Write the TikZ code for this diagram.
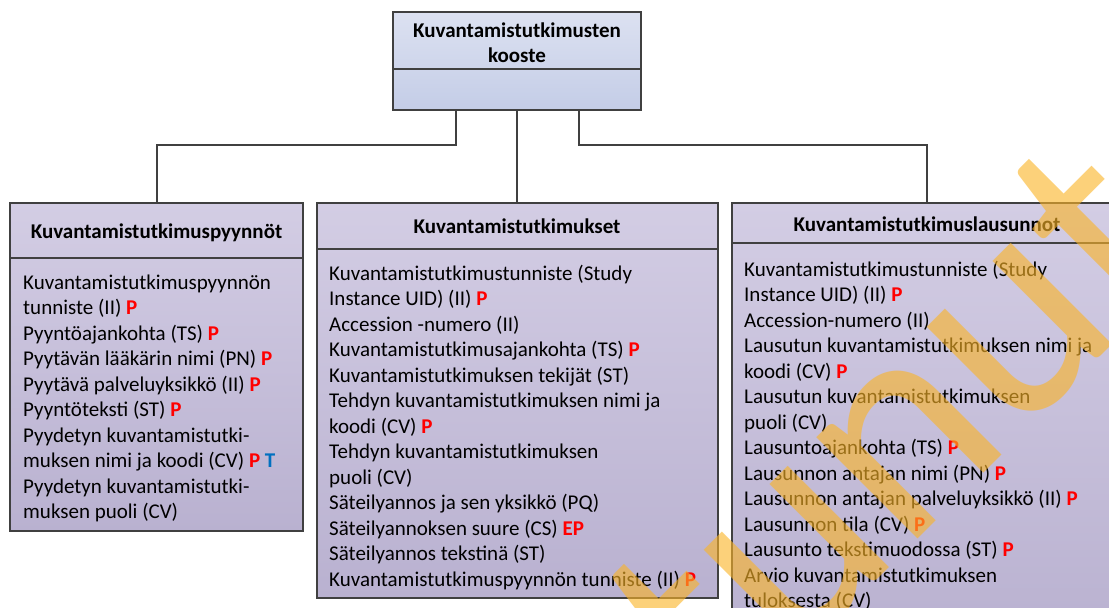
\documentclass[tikz,border=0pt]{standalone}
\usepackage{fontspec}
\setmainfont{Carlito}
\definecolor{edge}{RGB}{64,64,64}
\definecolor{pred}{RGB}{255,0,0}
\definecolor{tblue}{RGB}{0,112,192}
\definecolor{topA}{RGB}{220,225,241}
\definecolor{topB}{RGB}{196,205,231}
\definecolor{boxA}{RGB}{211,205,228}
\definecolor{boxB}{RGB}{185,177,208}
\definecolor{wmorange}{RGB}{250,180,40}
\newcommand{\pmark}{\textcolor{pred}{\textbf{P}}}
\newcommand{\tmark}{\textcolor{tblue}{\textbf{T}}}
\newcommand{\epmark}{\textcolor{pred}{\textbf{EP}}}
\newcommand{\firstline}{\rule{0pt}{20pt}}
\begin{document}
\begin{tikzpicture}[x=1pt,y=-1pt,
  classbox/.style={draw=edge,line width=2pt,outer sep=0pt,inner sep=0pt,anchor=north west,
    top color=boxA,bottom color=boxB},
  topbox/.style={classbox,top color=topA,bottom color=topB},
  divider/.style={draw=edge,line width=2pt},
  conn/.style={draw=edge,line width=2pt},
  titletext/.style={inner sep=0pt,font=\fontsize{21}{25.5}\selectfont\bfseries},
  bodytext/.style={inner sep=0pt,anchor=north west,align=left,font=\fontsize{21}{25.5}\selectfont},
  wm/.style={inner sep=0pt,text=wmorange,text opacity=0.62,font=\fontsize{300}{300}\selectfont}
]
\useasboundingbox (0,0) rectangle (1109,608);
\clip (0,0) rectangle (1109,608);

% class boxes
\node[topbox,minimum width=248pt,minimum height=98pt] (top) at (393,12) {};
\node[classbox,minimum width=293pt,minimum height=328pt] (req) at (10,203) {};
\node[classbox,minimum width=401pt,minimum height=395pt] (study) at (316.5,203) {};
\node[classbox,minimum width=390pt,minimum height=440pt] (rep) at (732,203) {};

% compartment dividers
\draw[divider] (top.west |- 0,69) -- (top.east |- 0,69);
\draw[divider] (req.west |- 0,258) -- (req.east |- 0,258);
\draw[divider] (study.west |- 0,249) -- (study.east |- 0,249);
\draw[divider] (rep.west |- 0,243) -- (rep.east |- 0,243);

% aggregation connectors
\draw[conn] ([xshift=-61pt]top.south) -- ++(0,35) -| (req.north);
\draw[conn] (top.south) -- (top.south |- study.north);
\draw[conn] ([xshift=62pt]top.south) -- ++(0,35) -| (rep.north);

% titles
\node[titletext,anchor=north,align=center] (topT) at (517,17)
  {\firstline Kuvantamistutkimusten\\kooste};
\node[titletext,anchor=base] (reqT) at (156.5,238) {Kuvantamistutkimuspyynnöt};
\node[titletext,anchor=base] (studyT) at (517,233) {Kuvantamistutkimukset};
\node[titletext,anchor=base] (repT) at (927,231) {Kuvantamistutkimuslausunnot};

% attributes
\node[bodytext] (reqB) at (23,269) {\firstline Kuvantamistutkimuspyynnön\\
tunniste (II) \pmark\\
Pyyntöajankohta (TS) \pmark\\
Pyytävän lääkärin nimi (PN) \pmark\\
Pyytävä palveluyksikkö (II) \pmark\\
Pyyntöteksti (ST) \pmark\\
Pyydetyn kuvantamistutki-\\
muksen nimi ja koodi (CV) \pmark{} \tmark\\
Pyydetyn kuvantamistutki-\\
muksen puoli (CV)};

\node[bodytext] (studyB) at (329,260) {\firstline Kuvantamistutkimustunniste (Study\\
Instance UID) (II) \pmark\\
Accession -numero (II)\\
Kuvantamistutkimusajankohta (TS) \pmark\\
Kuvantamistutkimuksen tekijät (ST)\\
Tehdyn kuvantamistutkimuksen nimi ja\\
koodi (CV) \pmark\\
Tehdyn kuvantamistutkimuksen\\
puoli (CV)\\
Säteilyannos ja sen yksikkö (PQ)\\
Säteilyannoksen suure (CS) \epmark\\
Säteilyannos tekstinä (ST)\\
Kuvantamistutkimuspyynnön tunniste (II) \pmark};

\node[bodytext] (repB) at (744,256) {\firstline Kuvantamistutkimustunniste (Study\\
Instance UID) (II) \pmark\\
Accession-numero (II)\\
Lausutun kuvantamistutkimuksen nimi ja\\
koodi (CV) \pmark\\
Lausutun kuvantamistutkimuksen\\
puoli (CV)\\
Lausuntoajankohta (TS) \pmark\\
Lausunnon antajan nimi (PN) \pmark\\
Lausunnon antajan palveluyksikkö (II) \pmark\\
Lausunnon tila (CV) \pmark\\
Lausunto tekstimuodossa (ST) \pmark\\
Arvio kuvantamistutkimuksen\\
tuloksesta (CV)};

% diagonal watermark
\node[wm,rotate=45,anchor=base east] (wmark) at (1198,259) {Vanhentunut};
\end{tikzpicture}
\end{document}
